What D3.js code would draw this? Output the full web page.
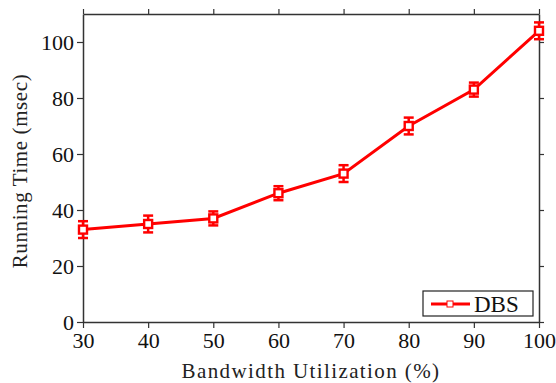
<!DOCTYPE html>
<html>
<head>
<meta charset="utf-8">
<script src="https://cdn.jsdelivr.net/npm/d3@7"></script>
<style>
  body { margin: 0; background: #fff; }
  svg { display: block; }
  svg text { font-family: "Liberation Serif", "DejaVu Serif", serif !important; }
</style>
</head>
<body>
<svg id="chart" width="556" height="383"></svg>
<script>
// data
var utilization = [30, 40, 50, 60, 70, 80, 90, 100];
var runningTime = [33, 35, 37, 46, 53, 70, 83, 104];
var errorHalf = [3, 3, 2.5, 2.5, 3, 3, 2.5, 3];
var xTicks = [30, 40, 50, 60, 70, 80, 90, 100];
var yTicks = [0, 20, 40, 60, 80, 100];
var seriesName = "DBS";

var svg = d3.select("#chart"),
	margin = {top: 14, right: 17, bottom: 61, left: 83},
	width = +svg.attr("width") - margin.left - margin.right,
	height = +svg.attr("height") - margin.top - margin.bottom,
	red = "#ff0000",
	axisColor = "#333";

var x = d3.scaleLinear().domain([30, 100]).range([0, width]);
var y = d3.scaleLinear().domain([0, 110]).range([height, 0]);

var g = svg.append("g").attr("transform", "translate(" + margin.left + "," + margin.top + ")");

function styleAxis(sel, showLabels) {
	sel.attr("font-family", null);
	sel.select(".domain").attr("stroke", axisColor).attr("stroke-width", 1.5);
	sel.selectAll(".tick line").attr("stroke", axisColor).attr("stroke-width", 1.2);
	sel.selectAll(".tick text")
		.attr("fill", "#111")
		.style("font-size", "22px")
		.style("display", showLabels ? null : "none");
}

g.append("g")
	.attr("transform", "translate(0," + height + ")")
	.call(d3.axisBottom(x).tickValues(xTicks).tickSize(6).tickPadding(4).tickSizeOuter(0))
	.call(styleAxis, true);
g.append("g")
	.call(d3.axisTop(x).tickValues(xTicks).tickSize(5).tickSizeOuter(0))
	.call(styleAxis, false);
g.append("g")
	.call(d3.axisLeft(y).tickValues(yTicks).tickSize(6).tickPadding(3).tickSizeOuter(0))
	.call(styleAxis, true);
g.append("g")
	.attr("transform", "translate(" + width + ",0)")
	.call(d3.axisRight(y).tickValues(yTicks).tickSize(5).tickSizeOuter(0))
	.call(styleAxis, false);

var pts = utilization.map(function(u, i) {
	return {x: u, y: runningTime[i], e: errorHalf[i]};
});

var line = d3.line()
	.x(function(d) { return x(d.x); })
	.y(function(d) { return y(d.y); });

g.append("path")
	.datum(pts)
	.attr("d", line)
	.attr("fill", "none")
	.attr("stroke", red)
	.attr("stroke-width", 3);

// error bars
var eb = g.append("g").selectAll("g").data(pts).enter().append("g");
eb.append("line")
	.attr("x1", function(d) { return x(d.x); })
	.attr("x2", function(d) { return x(d.x); })
	.attr("y1", function(d) { return y(d.y - d.e); })
	.attr("y2", function(d) { return y(d.y + d.e); })
	.attr("stroke", red).attr("stroke-width", 2.5);
[-1, 1].forEach(function(s) {
	eb.append("line")
		.attr("x1", function(d) { return x(d.x) - 5; })
		.attr("x2", function(d) { return x(d.x) + 5; })
		.attr("y1", function(d) { return y(d.y + s * d.e); })
		.attr("y2", function(d) { return y(d.y + s * d.e); })
		.attr("stroke", red).attr("stroke-width", 2.5);
});
eb.append("rect")
	.attr("x", function(d) { return x(d.x) - 4; })
	.attr("y", function(d) { return y(d.y) - 4; })
	.attr("width", 8).attr("height", 8)
	.attr("fill", "#fff").attr("stroke", red).attr("stroke-width", 2.4);

// axis titles
svg.append("text")
	.attr("x", margin.left + width / 2)
	.attr("y", 378)
	.attr("text-anchor", "middle")
	.attr("fill", "#222")
	.style("font-size", "21px")
	.style("letter-spacing", "1.4px")
	.text("Bandwidth Utilization (%)");
svg.append("text")
	.attr("transform", "translate(27," + (margin.top + height / 2 + 3) + ") rotate(-90)")
	.attr("text-anchor", "middle")
	.attr("fill", "#222")
	.style("font-size", "21px")
	.style("letter-spacing", "0.6px")
	.text("Running Time (msec)");

// legend
var lg = g.append("g").attr("transform", "translate(" + (width - 116) + "," + (height - 31) + ")");
lg.append("rect")
	.attr("width", 110).attr("height", 25)
	.attr("fill", "#fff").attr("stroke", "#222").attr("stroke-width", 1.2);
lg.append("line")
	.attr("x1", 8).attr("x2", 47).attr("y1", 13).attr("y2", 13)
	.attr("stroke", red).attr("stroke-width", 3);
lg.append("rect")
	.attr("x", 24).attr("y", 10).attr("width", 6).attr("height", 6)
	.attr("fill", "#fff").attr("stroke", red).attr("stroke-width", 1);
lg.append("text")
	.attr("x", 51).attr("y", 21)
	.attr("fill", "#111")
	.style("font-size", "23px")
	.text(seriesName);
</script>
</body>
</html>
